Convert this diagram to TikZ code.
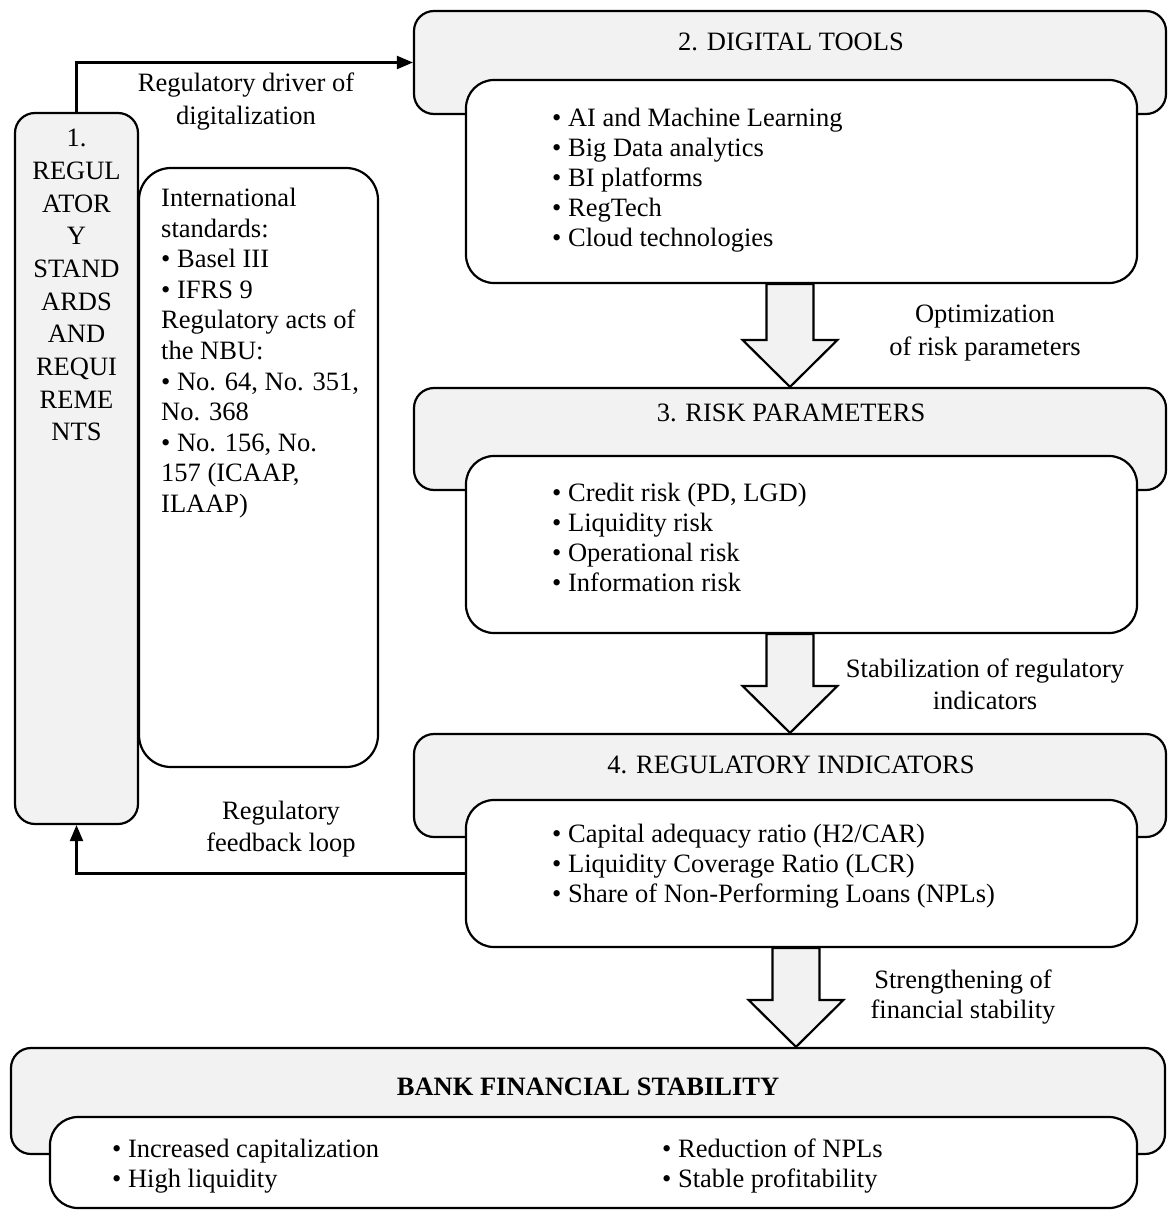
\documentclass[tikz,border=0pt]{standalone}
\usepackage{fontspec}
\setmainfont{Liberation Serif}
\usetikzlibrary{arrows.meta,calc}
\definecolor{boxgray}{HTML}{F2F2F2}
\begin{document}
\begin{tikzpicture}[x=1pt,y=-1pt]
\tikzstyle{every node}+=[inner sep=0pt, font=\fontsize{26.5}{30}\selectfont]
\tikzstyle{grayblock}=[draw=black, line width=2.2pt, fill=boxgray, rounded corners=20pt]
\tikzstyle{whiteblock}=[draw=black, line width=2.2pt, fill=white, rounded corners=28pt]
\tikzstyle{link}=[draw=black, line width=2.2pt, -{Triangle[length=16pt,width=13pt]}]
\tikzstyle{fat}=[draw=black, line width=2.2pt, fill=boxgray, line join=miter]
\useasboundingbox (0,0) rectangle (1167,1212);
\node [grayblock, minimum width=123pt, minimum height=711pt] (reg) at (76.5,468.5) {};
\node [anchor=north, align=center, font=\fontsize{26.5}{32.7}\selectfont] (regtxt) at (76.5,129) {1.\\REGUL\\ATOR\\Y\\STAND\\ARDS\\AND\\REQUI\\REME\\NTS};
\node [whiteblock, rounded corners=32pt, minimum width=239pt, minimum height=599pt] (std) at (258.5,467.5) {};
\node [anchor=north west, align=left, font=\fontsize{26.5}{30.6}\selectfont] (stdtxt) at (161,188) {International\\standards:\\• Basel III\\• IFRS 9\\Regulatory acts of\\the NBU:\\• No. 64, No. 351,\\No. 368\\• No. 156, No.\\157 (ICAAP,\\ILAAP)};
\node [grayblock, minimum width=752pt, minimum height=103pt] (dig) at (790,62.5) {};
\node (digtitle) at (791,42) {2. DIGITAL TOOLS};
\node [whiteblock, minimum width=671pt, minimum height=203pt] (diglist) at (801.5,181.5) {};
\node [anchor=north west, align=left] (digtxt) at (552,107.5) {• AI and Machine Learning\\• Big Data analytics\\• BI platforms\\• RegTech\\• Cloud technologies};
\node [grayblock, minimum width=752pt, minimum height=102pt] (risk) at (790,439) {};
\node (risktitle) at (791,413) {3. RISK PARAMETERS};
\node [whiteblock, minimum width=671pt, minimum height=177pt] (risklist) at (801.5,544.5) {};
\node [anchor=north west, align=left] (risktxt) at (552,482.5) {• Credit risk (PD, LGD)\\• Liquidity risk\\• Operational risk\\• Information risk};
\node [grayblock, minimum width=752pt, minimum height=103pt] (ind) at (790,785.5) {};
\node (indtitle) at (791,765) {4. REGULATORY INDICATORS};
\node [whiteblock, minimum width=671pt, minimum height=147pt] (indlist) at (801.5,873.5) {};
\node [anchor=north west, align=left] (indtxt) at (552,823.5) {• Capital adequacy ratio (H2/CAR)\\• Liquidity Coverage Ratio (LCR)\\• Share of Non-Performing Loans (NPLs)};
\node [grayblock, minimum width=1154pt, minimum height=106pt] (fin) at (588,1101) {};
\node [font=\fontsize{26.5}{30}\selectfont\bfseries] (fintitle) at (588,1087) {BANK FINANCIAL STABILITY};
\node [whiteblock, minimum width=1087pt, minimum height=91pt] (finlist) at (593.5,1162.5) {};
\node [anchor=north west, align=left] (fintxta) at (112,1138.5) {• Increased capitalization\\• High liquidity};
\node [anchor=north west, align=left] (fintxtb) at (662,1138.5) {• Reduction of NPLs\\• Stable profitability};
\node [align=center, font=\fontsize{26.5}{33}\selectfont] (drvlab) at (246,101.5) {Regulatory driver of\\digitalization};
\node [align=center, font=\fontsize{26.5}{32}\selectfont] (fbklab) at (281,829) {Regulatory\\feedback loop};
\node [align=center, font=\fontsize{26.5}{33}\selectfont] (optlab) at (985,333.5) {Optimization\\of risk parameters};
\node [align=center, font=\fontsize{26.5}{32}\selectfont] (stblab) at (985,684) {Stabilization of regulatory\\indicators};
\node [align=center] (strlab) at (963,997) {Strengthening of\\financial stability};
\draw [link] (reg.north) |- (dig.west);
\draw [link] (indlist.west) -| (reg.south);
\draw [fat] let \p1=(dig.south), \p2=(diglist.south), \p3=(risk.north) in (\x1-23.5pt,\y2) -- (\x1+23.5pt,\y2) -- (\x1+23.5pt,\y3+47pt) -- (\x1+47.5pt,\y3+47pt) -- (\x1,\y3) -- (\x1-47.5pt,\y3+47pt) -- (\x1-23.5pt,\y3+47pt) -- cycle;
\draw [fat] let \p1=(risk.south), \p2=(risklist.south), \p3=(ind.north) in (\x1-23.5pt,\y2) -- (\x1+23.5pt,\y2) -- (\x1+23.5pt,\y3+47pt) -- (\x1+47.5pt,\y3+47pt) -- (\x1,\y3) -- (\x1-47.5pt,\y3+47pt) -- (\x1-23.5pt,\y3+47pt) -- cycle;
\draw [fat] let \p1=($(ind.south)+(6,0)$), \p2=(indlist.south), \p3=(fin.north) in (\x1-23.5pt,\y2) -- (\x1+23.5pt,\y2) -- (\x1+23.5pt,\y3+47pt) -- (\x1+47.5pt,\y3+47pt) -- (\x1,\y3) -- (\x1-47.5pt,\y3+47pt) -- (\x1-23.5pt,\y3+47pt) -- cycle;
\end{tikzpicture}
\end{document}
